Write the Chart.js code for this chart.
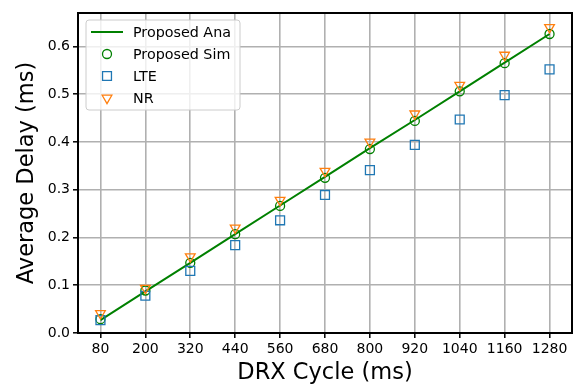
<!DOCTYPE html>
<html>
<head>
<meta charset="utf-8">
<script src="https://cdn.jsdelivr.net/npm/chart.js@4.4.1/dist/chart.umd.min.js"></script>
<style>
  html, body { margin: 0; padding: 0; background: #fff; }
  #wrap { width: 573px; height: 385px; }
</style>
</head>
<body>
<div id="wrap"><canvas id="delayChart" width="573" height="385"></canvas></div>
<script>
const drxCycle = [80, 200, 320, 440, 560, 680, 800, 920, 1040, 1160, 1280];
const proposedAna = [0.027, 0.087, 0.147, 0.207, 0.267, 0.327, 0.387, 0.446, 0.506, 0.566, 0.626];
const proposedSim = [0.029, 0.089, 0.147, 0.207, 0.266, 0.325, 0.385, 0.444, 0.506, 0.565, 0.626];
const lteDelay = [0.027, 0.078, 0.130, 0.184, 0.236, 0.289, 0.341, 0.394, 0.447, 0.498, 0.552];
const nrDelay = [0.041, 0.094, 0.160, 0.220, 0.278, 0.339, 0.400, 0.459, 0.519, 0.582, 0.640];
const xTicks = [80, 200, 320, 440, 560, 680, 800, 920, 1040, 1160, 1280];
const yTicks = [0.0, 0.1, 0.2, 0.3, 0.4, 0.5, 0.6];

Chart.defaults.font.family = "'DejaVu Sans', sans-serif";
Chart.defaults.color = "#000";

const pts = arr => arr.map((v, i) => ({ x: drxCycle[i], y: v }));

const legendItems = [
  { label: "Proposed Ana", type: "line", color: "green" },
  { label: "Proposed Sim", type: "circle", color: "green", radius: 4.5, rotation: 0 },
  { label: "LTE", type: "rect", color: "#1f77b4", radius: 6.3, rotation: 0 },
  { label: "NR", type: "triangle", color: "#ff7f0e", radius: 5.6, rotation: 180 }
];

// frame + legend box drawn inside the axes
const framePlugin = {
  id: "frameAndLegend",
  afterDraw(chart) {
    const { ctx, chartArea: a } = chart;
    ctx.save();
    ctx.strokeStyle = "#000";
    ctx.lineWidth = 2;
    ctx.strokeRect(a.left, a.top, a.right - a.left, a.bottom - a.top);

    const bx = 86, by = 20, bw = 154, bh = 90;
    ctx.beginPath();
    ctx.roundRect(bx, by, bw, bh, 3);
    ctx.fillStyle = "rgba(255,255,255,0.8)";
    ctx.fill();
    ctx.strokeStyle = "#cccccc";
    ctx.lineWidth = 1;
    ctx.stroke();

    ctx.font = "14.3px 'DejaVu Sans'";
    ctx.textBaseline = "middle";
    legendItems.forEach((it, i) => {
      const y = 32 + i * 22;
      if (it.type === "line") {
        ctx.beginPath();
        ctx.moveTo(91, y);
        ctx.lineTo(123, y);
        ctx.strokeStyle = it.color;
        ctx.lineWidth = 2;
        ctx.stroke();
      } else {
        ctx.strokeStyle = it.color;
        ctx.fillStyle = "rgba(0,0,0,0)";
        ctx.lineWidth = 1.3;
        Chart.helpers.drawPoint(ctx, { pointStyle: it.type, rotation: it.rotation, radius: it.radius, borderWidth: 1.3 }, 107, y);
      }
      ctx.fillStyle = "#000";
      ctx.fillText(it.label, 133, y + 1);
    });
    ctx.restore();
  }
};

const ctx = document.getElementById("delayChart");

const delayChart = new Chart(ctx, {
  type: "line",
  data: {
    datasets: [
      {
        label: "Proposed Ana",
        data: pts(proposedAna),
        borderColor: "green",
        borderWidth: 2,
        pointRadius: 0,
        fill: false,
        order: 4
      },
      {
        label: "Proposed Sim",
        data: pts(proposedSim),
        showLine: false,
        pointStyle: "circle",
        pointRadius: 4.5,
        pointBorderWidth: 1.3,
        pointBorderColor: "green",
        pointBackgroundColor: "rgba(0,0,0,0)",
        order: 3
      },
      {
        label: "LTE",
        data: pts(lteDelay),
        showLine: false,
        pointStyle: "rect",
        pointRadius: 6.3,
        pointBorderWidth: 1.3,
        pointBorderColor: "#1f77b4",
        pointBackgroundColor: "rgba(0,0,0,0)",
        order: 2
      },
      {
        label: "NR",
        data: pts(nrDelay),
        showLine: false,
        pointStyle: "triangle",
        pointRotation: 180,
        pointRadius: 5.6,
        pointBorderWidth: 1.3,
        pointBorderColor: "#ff7f0e",
        pointBackgroundColor: "rgba(0,0,0,0)",
        order: 1
      }
    ]
  },
  options: {
    responsive: false,
    animation: false,
    layout: {
      autoPadding: false,
      padding: { left: 0, right: 1, top: 13, bottom: 0 }
    },
    plugins: {
      legend: { display: false },
      tooltip: { enabled: false }
    },
    scales: {
      x: {
        type: "linear",
        min: 20,
        max: 1340,
        afterBuildTicks: scale => {
          scale.ticks = xTicks.map(v => ({ value: v }));
        },
        afterFit: scale => {
          scale.height = 52;
          scale.paddingLeft = 0;
          scale.paddingRight = 0;
        },
        grid: {
          color: "#b0b0b0",
          lineWidth: 1.6,
          tickColor: "#000",
          tickLength: 5,
          tickWidth: 1.5
        },
        border: { display: false },
        ticks: {
          font: { size: 14 },
          color: "#000",
          padding: 3,
          maxRotation: 0,
          autoSkip: false,
          callback: v => String(v)
        },
        title: {
          display: true,
          text: "DRX Cycle (ms)",
          font: { size: 22.5 },
          color: "#000",
          padding: { top: 0, bottom: -2 }
        }
      },
      y: {
        min: 0,
        max: 0.67,
        afterBuildTicks: scale => {
          scale.ticks = yTicks.map(v => ({ value: v }));
        },
        afterFit: scale => {
          scale.width = 78;
          scale.paddingTop = 0;
          scale.paddingBottom = 0;
        },
        grid: {
          color: "#b0b0b0",
          lineWidth: 1.6,
          tickColor: "#000",
          tickLength: 5,
          tickWidth: 1.5
        },
        border: { display: false },
        ticks: {
          font: { size: 14 },
          color: "#000",
          padding: 3,
          callback: v => v.toFixed(1)
        },
        title: {
          display: true,
          text: "Average Delay (ms)",
          font: { size: 22.5 },
          color: "#000",
          padding: { top: 14, bottom: 0 }
        }
      }
    }
  },
  plugins: [framePlugin]
});
</script>
</body>
</html>
